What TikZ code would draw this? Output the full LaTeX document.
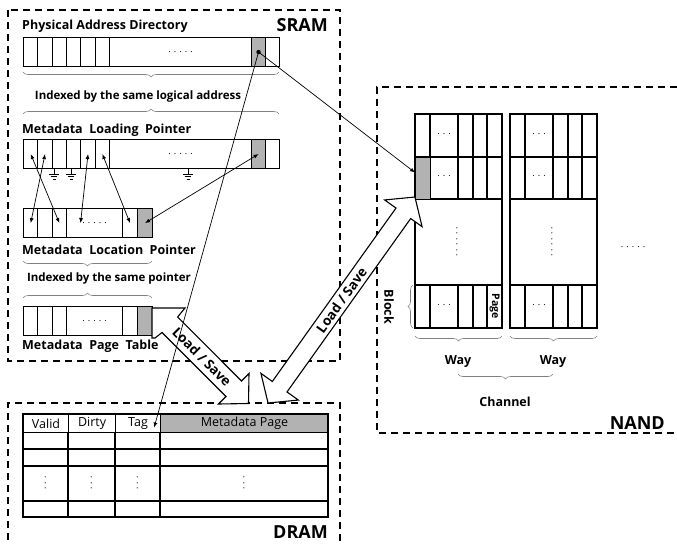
\documentclass[tikz,border=0pt]{standalone}
\usepackage{fontspec}
\setmainfont{Open Sans}
\usetikzlibrary{arrows.meta,shapes.arrows,decorations.pathreplacing}

\begin{document}
\begin{tikzpicture}[x=1pt, y=-1pt,
  cell/.style={draw, line width=1.1pt, inner sep=0pt, minimum height=29pt,
               anchor=north west, font=\small},
  gcell/.style={cell, fill=black!30},
  grid/.style={line width=1.1pt},
  area/.style={line width=1.3pt, dash pattern=on 7pt off 5pt},
  lbl/.style={font=\fontsize{12.5}{14}\selectfont\bfseries, anchor=west, inner sep=0pt},
  note/.style={font=\fontsize{11.5}{13}\selectfont\bfseries, inner sep=0pt},
  mem/.style={font=\fontsize{18}{20}\selectfont\bfseries, inner sep=0pt},
  head/.style={cell, minimum height=18pt, font=\fontsize{12.5}{14}\selectfont},
  brc/.style={draw=black!50, semithick, decorate, decoration={brace, amplitude=5pt}},
  ptr/.style={line width=0.7pt, -{Latex[length=5pt,width=4pt]}},
  dptr/.style={line width=0.7pt, {Latex[length=5pt,width=4pt]}-{Latex[length=5pt,width=4pt]}},
  blk/.style={draw, fill=white, line width=1.1pt},
  ls/.style={font=\fontsize{13.5}{15}\selectfont\bfseries, inner sep=2pt},
  gnd/.pic={\draw[line width=0.8pt] (0,0) -- (0,6) (-5,6) -- (5,6)
            (-3.3,8.5) -- (3.3,8.5) (-1.5,11) -- (1.5,11);}
]
  \useasboundingbox (0,0) rectangle (677,544);

  % SRAM
  \draw[area] (8,10) rectangle (340,361);
  \node[mem, anchor=east] (sram) at (328,25) {SRAM};

  % Physical address directory
  \node[lbl] (padlbl) at (22,26) {Physical Address Directory};
  \foreach \i in {1,...,6}
    \node[cell, minimum width=14.33pt] (pad\i) at ({23+14.33*(\i-1)},37) {};
  \node[cell, minimum width=142pt] (padd) at (109,37) {. . . . .};
  \node[gcell, minimum width=14pt] (padg) at (251,37) {};
  \node[cell, minimum width=14pt] (pade) at (265,37) {};
  \draw[brc] (279,72) -- (23,72);
  \node[note] (idx1) at (138,97) {Indexed by the same logical address};
  \draw[brc] (23,114) -- (279,114);

  % Metadata loading pointer
  \node[lbl] (mlplbl) at (22,130) {Metadata \ Loading \ Pointer};
  \foreach \i in {1,...,6}
    \node[cell, minimum width=14.33pt] (mlp\i) at ({23+14.33*(\i-1)},139) {};
  \node[cell, minimum width=142pt] (mlpd) at (109,139) {. . . . .};
  \node[gcell, minimum width=14pt] (mlpg) at (251,139) {};
  \node[cell, minimum width=14pt] (mlpe) at (265,139) {};
  \pic at (54,168) {gnd};
  \pic at (71,168) {gnd};
  \pic at (188,168) {gnd};

  % Metadata location pointer
  \foreach \i in {1,2,3}
    \node[cell, minimum width=14.33pt] (loc\i) at ({23+14.33*(\i-1)},208) {};
  \node[cell, minimum width=56pt] (locd) at (66,208) {. . . . .};
  \node[cell, minimum width=15pt] (loc4) at (122,208) {};
  \node[gcell, minimum width=15pt] (locg) at (137,208) {};
  \node[lbl] (loclbl) at (22,250) {Metadata \ Location \ Pointer};
  \draw[brc] (152,261) -- (23,261);
  \node[note] (idx2) at (109,279) {Indexed by the same pointer};
  \draw[brc] (23,298) -- (152,298);

  % Metadata page table
  \foreach \i in {1,2,3}
    \node[cell, minimum width=14.33pt] (mpt\i) at ({23+14.33*(\i-1)},306) {};
  \node[cell, minimum width=56pt] (mptd) at (66,306) {. . . . .};
  \node[cell, minimum width=15pt] (mpt4) at (122,306) {};
  \node[gcell, minimum width=15pt] (mptg) at (137,306) {};
  \node[lbl] (mptlbl) at (22,346) {Metadata \ Page \ Table};

  % NAND
  \draw[area] (677,87) -- (377,87) -- (377,433) -- (677,433);
  \node[mem, anchor=east] (nand) at (665,423) {NAND};
  \foreach \x in {415,510} {
    \draw[grid] (\x,114) rectangle ++(87,214);
    \draw[grid] (\x,157) -- ++(87,0) (\x,199) -- ++(87,0) (\x,285) -- ++(87,0);
    \foreach \c in {15,43,58,72}
      \draw[grid] (\x+\c,114) -- (\x+\c,199) (\x+\c,285) -- (\x+\c,328);
    \node[font=\small] (da\x) at (\x+29,134) {. . .};
    \node[font=\small] (db\x) at (\x+29,176) {. . .};
    \node[font=\small] (dc\x) at (\x+29,305) {. . .};
    \node[font=\small, rotate=90] (dv\x) at (\x+42,242) {. . . . . .};
    \draw[brc] (\x+87,336) -- (\x,336);
    \node[lbl, anchor=center] (way\x) at (\x+43,362) {Way};
  }
  \node[gcell, minimum width=15pt, minimum height=42pt] (nandg) at (415,157) {};
  \node[rotate=-90, inner sep=0pt, font=\fontsize{10.5}{12}\selectfont\bfseries] (page) at (494.5,306.5) {Page};
  \draw[brc] (413,328) -- (413,285);
  \node[lbl, anchor=center, rotate=-90] (block) at (389,307) {Block};
  \draw[brc] (553,374) -- (458,374);
  \node[lbl, anchor=center] (chan) at (505,402) {Channel};
  \node[font=\small] (dh) at (633,247) {. . . . .};

  % DRAM
  \draw[area] (8,552) -- (8,403) -- (340,403) -- (340,552);
  \node[mem, anchor=east] (dram) at (328,532) {DRAM};
  \node[head, minimum width=45pt] (hvalid) at (23,414) {Valid};
  \node[head, minimum width=47pt] (hdirty) at (68,414) {Dirty};
  \node[head, minimum width=45pt] (htag) at (115,414) {Tag};
  \node[head, minimum width=168pt, fill=black!30] (hmeta) at (160,414) {Metadata Page};
  \draw[grid] (23,414) rectangle (328,517);
  \foreach \y in {449,466,501}
    \draw[grid] (23,\y) -- (328,\y);
  \foreach \x in {68,115,160}
    \draw[grid] (\x,432) -- (\x,517);
  \foreach \x/\n in {45.5/1,91.5/2,137.5/3,244/4}
    \node[font=\small, rotate=90] (vd\n) at (\x,483) {. . .};

  % Load / Save arrows
  \draw[blk] (152,308) -- (185,308) -- (177.6,317) -- (241.5,381) -- (249,373.5)
    -- (248.5,403.5) -- (218.5,404) -- (226,396.5) -- (162,332.5) -- (155,338)
    -- (152,338) -- cycle;
  \node[ls, rotate=-45] (ls1) at (202,357) {Load / Save};
  \node[blk, ls, double arrow, rotate=54.5, minimum height=253pt, minimum width=46pt,
        double arrow head extend=12pt, double arrow tip angle=98] (ls2) at (341.5,300) {Load / Save};

  % Pointers
  \draw[dptr] (mlp1.center) -- (loc3.center);
  \draw[dptr] (mlp2.center) -- (loc1.center);
  \draw[dptr] (mlp5.center) -- ([xshift=-14pt]locd.center);
  \draw[dptr] (mlp6.center) -- (loc4.center);
  \draw[dptr] (mlpg.center) -- (locg.center);
  \draw[ptr] (padg.center) -- ([yshift=6pt]nandg.west);
  \draw[ptr] (padg.center) -- ([xshift=-7pt,yshift=-4pt]htag.east);
  \fill (padg.center) circle (2.2);
\end{tikzpicture}
\end{document}
